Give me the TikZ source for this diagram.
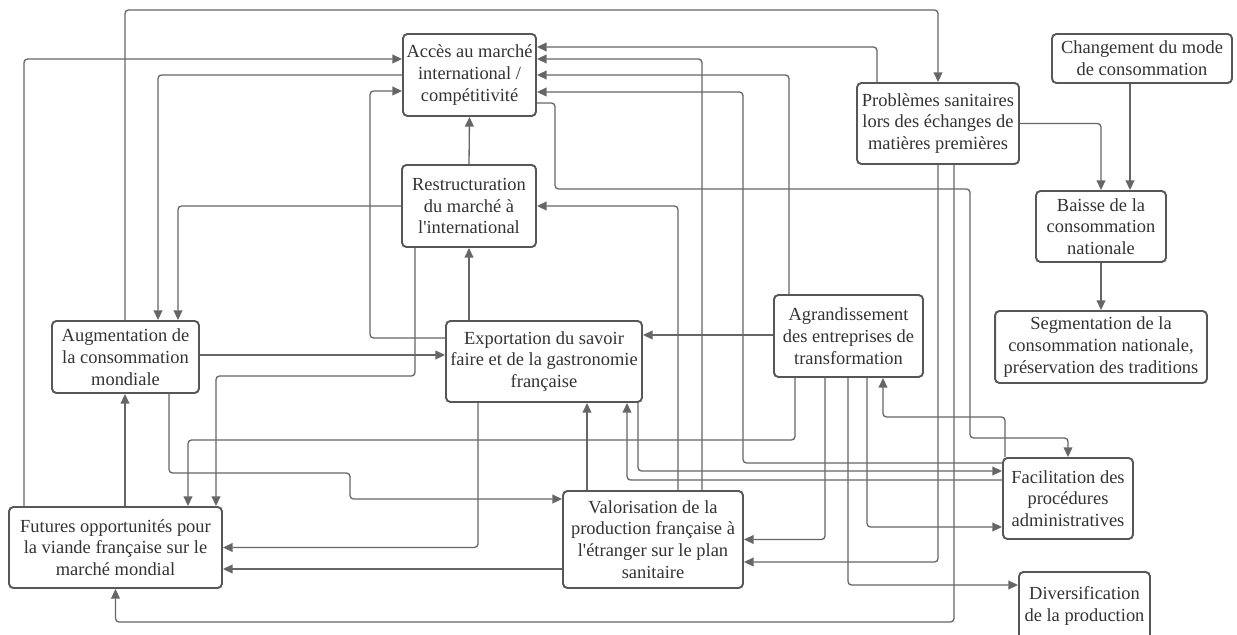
\documentclass[tikz,border=0pt]{standalone}
\usepackage{fontspec}
\setmainfont{Liberation Serif}
\usetikzlibrary{arrows.meta}
\definecolor{linegray}{HTML}{666666}
\definecolor{boxgray}{HTML}{575757}
\definecolor{txtgray}{HTML}{333333}
\tikzset{
  box/.style={draw=boxgray, line width=1.1pt, rounded corners=2.5pt, fill=white, align=center,
    inner sep=0pt, text=txtgray, font=\fontsize{10.5}{12.4}\selectfont},
  arr/.style={-{Triangle[length=5.5pt, width=5pt]}, draw=linegray, line width=0.75pt, rounded corners=2pt},
}
\begin{document}
\begin{tikzpicture}[x=0.02cm, y=-0.02cm]
  \useasboundingbox (0,0) rectangle (1237,635);
  \clip (0,0) rectangle (1237,635);
  % boxes
  \node[box, minimum width=2.66cm, minimum height=1.64cm] (A) at (469.5,75) {Accès au marché\\international /\\compétitivité};
  \node[box, minimum width=2.68cm, minimum height=1.64cm] (R) at (469,206) {Restructuration\\du marché à\\l\textquotesingle international};
  \node[box, minimum width=3.24cm, minimum height=1.62cm] (P) at (938,123.5) {Problèmes sanitaires\\lors des échanges de\\matières premières};
  \node[box, minimum width=3.60cm, minimum height=0.98cm] (C) at (1142,58.5) {Changement du mode\\de consommation};
  \node[box, minimum width=2.60cm, minimum height=1.42cm] (B) at (1101,226.5) {Baisse de la\\consommation\\nationale};
  \node[box, minimum width=4.24cm, minimum height=1.44cm] (S) at (1101,347) {Segmentation de la\\consommation nationale,\\préservation des traditions};
  \node[box, minimum width=2.98cm, minimum height=1.64cm] (G) at (848.5,336) {Agrandissement\\des entreprises de\\transformation};
  \node[box, minimum width=3.92cm, minimum height=1.62cm] (E) at (544,361.5) {Exportation du savoir\\faire et de la gastronomie\\française};
  \node[box, minimum width=2.94cm, minimum height=1.44cm] (M) at (125.5,357) {Augmentation de\\la consommation\\mondiale};
  \node[box, minimum width=4.26cm, minimum height=1.62cm] (F) at (115.5,547.5) {Futures opportunités pour\\la viande française sur le\\marché mondial};
  \node[box, minimum width=3.60cm, minimum height=1.94cm] (V) at (653,539.5) {Valorisation de la\\production française à\\l\textquotesingle étranger sur le plan\\sanitaire};
  \node[box, minimum width=2.60cm, minimum height=1.62cm] (Fa) at (1068,498.5) {Facilitation des\\procédures\\administratives};
  \node[box, minimum width=2.62cm, minimum height=1.36cm] (D) at (1084.5,606) {Diversification\\de la production};

  % connectors
  \draw[arr] (M.north -| 125,0) |- (P.north |- 0,10) -- (P.north);
  \draw[arr] (F.north -| 24,0) |- (A.west |- 0,59);
  \draw[arr] (A.west) -| (M.north -| 158,0);
  \draw[arr] (E.west |- 0,338) -| (370,91) -- (A.west |- 0,91);
  \draw[arr] (R.west) -| (M.north -| 178,0);
  \draw[arr] (R.south -| 415,0) |- (216,376) -- (F.north -| 216,0);
  \draw[arr] (R.north) -- (A.south);
  \draw[arr] (E.north -| R.south) -- (R.south);
  \draw[arr] (P.north -| 877,0) |- (A.east |- 0,47);
  \draw[arr] (V.north -| 702,0) |- (A.east |- 0,59);
  \draw[arr] (G.north -| 789,0) |- (A.east);
  \draw[arr] (Fa.west |- 0,463) -| (743,92) -- (A.east |- 0,92);
  \draw[arr] (A.east |- 0,103) -| (555,189) -| (970,438) -| (Fa.north);
  \draw[arr] (V.north -| 678,0) |- (R.east);
  \draw[arr] (P.east) -| (B.north);
  \draw[arr] (C.south -| 1130,0) -- (B.north -| 1130,0);
  \draw[arr] (B.south) -- (S.north);
  \draw[arr] (P.south) |- (V.east |- 0,562);
  \draw[arr] (P.south -| 954,0) |- (F.south |- 0,622) -- (F.south);
  \draw[arr] (Fa.north -| 1005,0) |- (883,417) -- (G.south -| 883,0);
  \draw[arr] (G.south -| 795,0) |- (188,440) -- (F.north -| 188,0);
  \draw[arr] (G.south -| 825,0) |- (V.east);
  \draw[arr] (G.south -| 848,0) |- (D.west |- 0,585);
  \draw[arr] (G.south -| 867,0) |- (Fa.west |- 0,527);
  \draw[arr] (G.west |- 0,335) -- (E.east |- 0,335);
  \draw[arr] (M.east |- 0,355) -- (E.west |- 0,355);
  \draw[arr] (M.south -| 169,0) |- (350,473) |- (V.west |- 0,499);
  \draw[arr] (F.north -| 125,0) -- (M.south -| 125,0);
  \draw[arr] (E.south -| 478,0) |- (F.east);
  \draw[arr] (V.west |- 0,569) -- (F.east |- 0,569);
  \draw[arr] (V.north -| 587,0) -- (E.south -| 587,0);
  \draw[arr] (E.south -| 638,0) |- (Fa.west |- 0,471);
  \draw[arr] (Fa.west |- 0,480) -| (E.south -| 627,0);
\end{tikzpicture}
\end{document}
